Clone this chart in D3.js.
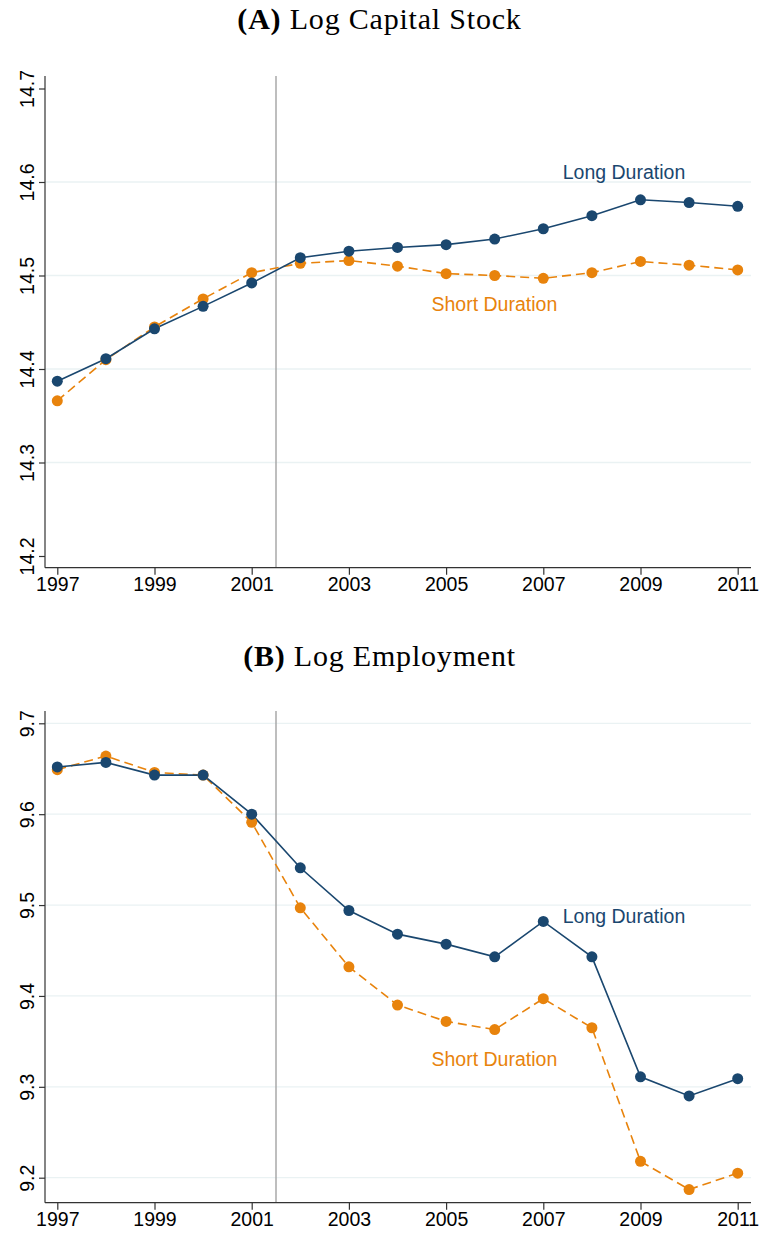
<!DOCTYPE html>
<html>
<head>
<meta charset="utf-8">
<script src="https://cdn.jsdelivr.net/npm/d3@7"></script>
<style>
  body { margin: 0; background: #fff; }
  svg { display: block; }
</style>
</head>
<body>
<script>
// Data
const years = [1997, 1998, 1999, 2000, 2001, 2002, 2003, 2004, 2005, 2006, 2007, 2008, 2009, 2010, 2011]
const xTicks = [1997, 1999, 2001, 2003, 2005, 2007, 2009, 2011]

const capitalLong = [14.387, 14.411, 14.443, 14.467, 14.492, 14.519, 14.526, 14.530, 14.533, 14.539, 14.550, 14.564, 14.581, 14.578, 14.574]
const capitalShort = [14.366, 14.410, 14.445, 14.475, 14.503, 14.513, 14.516, 14.510, 14.502, 14.500, 14.497, 14.503, 14.515, 14.511, 14.506]
const capitalTicks = [14.2, 14.3, 14.4, 14.5, 14.6, 14.7]

const emplLong = [9.652, 9.657, 9.643, 9.643, 9.600, 9.541, 9.494, 9.468, 9.457, 9.443, 9.482, 9.443, 9.311, 9.290, 9.309]
const emplShort = [9.649, 9.664, 9.646, 9.643, 9.591, 9.497, 9.432, 9.390, 9.372, 9.363, 9.397, 9.365, 9.218, 9.187, 9.205]
const emplTicks = [9.2, 9.3, 9.4, 9.5, 9.6, 9.7]

const treatYear = 2001.5

// Constants
const W = 759, H = 1237
const navy = "#1a476f"
const orange = "#e8830c"
const sans = "'Liberation Sans', Arial, Helvetica, sans-serif"
const serif = "'Liberation Serif', 'DejaVu Serif', serif"

const svg = d3.select("body").append("svg")
  .attr("width", W)
  .attr("height", H)

const x = d3.scaleLinear().domain([1997, 2011]).range([57.3, 737.7])

const drawPanel = opts => {
  const g = svg.append("g")
  const y = d3.scaleLinear().domain([opts.ticks[0], opts.ticks[opts.ticks.length - 1]]).range(opts.yRange)

  // Title (serif, a bit wider to look like the LaTeX caption)
  const title = g.append("text")
    .attr("x", W / 2)
    .attr("y", opts.titleY)
    .attr("text-anchor", "middle")
    .style("font-family", serif)
    .style("font-size", "30px")
    .style("letter-spacing", "0.8px")
  title.append("tspan").style("font-weight", "bold").text(opts.letter)
  title.append("tspan").text(" " + opts.title)

  // Gridlines
  g.selectAll(".grid")
    .data(opts.gridTicks)
    .enter()
    .append("line")
    .attr("x1", 45).attr("x2", 751)
    .attr("y1", d => y(d)).attr("y2", d => y(d))
    .attr("stroke", "#eaf2f3")
    .attr("stroke-width", 1.3)

  // Vertical line
  g.append("line")
    .attr("x1", x(treatYear)).attr("x2", x(treatYear))
    .attr("y1", opts.top).attr("y2", opts.bottom)
    .attr("stroke", "#a3a3a3")
    .attr("stroke-width", 1.4)

  // Axes
  const yAxis = d3.axisLeft(y).tickValues(opts.ticks).tickSize(6).tickFormat(d3.format(".1f"))
  const ya = g.append("g")
    .attr("transform", "translate(45,0)")
    .call(yAxis)
  ya.select(".domain").attr("d", `M0,${opts.top}V${opts.bottom}`)
  ya.selectAll(".tick text")
    .attr("x", 0).attr("y", 0).attr("dy", 0)
    .attr("transform", "translate(-11,0) rotate(-90)")
    .attr("text-anchor", "middle")
    .style("font-family", sans)
    .style("font-size", "19.5px")
    .style("fill", "#000")

  const xAxis = d3.axisBottom(x).tickValues(xTicks).tickSize(7).tickFormat(d3.format("d"))
  const xa = g.append("g")
    .attr("transform", `translate(0,${opts.bottom})`)
    .call(xAxis)
  xa.select(".domain").attr("d", "M45,0H751")
  xa.selectAll(".tick text")
    .attr("y", 9)
    .style("font-family", sans)
    .style("font-size", "19.5px")
    .style("fill", "#000")
  g.selectAll(".domain, .tick line").attr("stroke", "#333").attr("stroke-width", 1.2)

  // Lines
  const line = d3.line().x((d, i) => x(years[i])).y(d => y(d))

  g.append("path")
    .datum(opts.short)
    .attr("d", line)
    .attr("fill", "none")
    .attr("stroke", orange)
    .attr("stroke-width", 1.6)
    .attr("stroke-dasharray", "9,5")

  g.append("path")
    .datum(opts.long)
    .attr("d", line)
    .attr("fill", "none")
    .attr("stroke", navy)
    .attr("stroke-width", 1.6)

  g.selectAll(".dotS")
    .data(opts.short)
    .enter()
    .append("circle")
    .attr("cx", (d, i) => x(years[i]))
    .attr("cy", d => y(d))
    .attr("r", 5.5)
    .attr("fill", orange)

  g.selectAll(".dotL")
    .data(opts.long)
    .enter()
    .append("circle")
    .attr("cx", (d, i) => x(years[i]))
    .attr("cy", d => y(d))
    .attr("r", 5.5)
    .attr("fill", navy)

  // Series labels
  g.append("text")
    .attr("x", x(opts.longLabel[0]))
    .attr("y", y(opts.longLabel[1]))
    .attr("dy", "0.35em")
    .style("font-family", sans)
    .style("font-size", "19.5px")
    .style("fill", navy)
    .text("Long Duration")

  g.append("text")
    .attr("x", x(opts.shortLabel[0]))
    .attr("y", y(opts.shortLabel[1]))
    .attr("dy", "0.35em")
    .style("font-family", sans)
    .style("font-size", "19.5px")
    .style("fill", orange)
    .text("Short Duration")
}

drawPanel({
  letter: "(A)", title: "Log Capital Stock", titleY: 29,
  ticks: capitalTicks, gridTicks: [14.3, 14.4, 14.5, 14.6],
  yRange: [556, 88.5], top: 76, bottom: 567.7,
  long: capitalLong, short: capitalShort,
  longLabel: [2007.4, 14.610], shortLabel: [2004.7, 14.469]
})

drawPanel({
  letter: "(B)", title: "Log Employment", titleY: 666,
  ticks: emplTicks, gridTicks: emplTicks,
  yRange: [1177.7, 723.3], top: 711, bottom: 1202.7,
  long: emplLong, short: emplShort,
  longLabel: [2007.4, 9.488], shortLabel: [2004.7, 9.330]
})
</script>
</body>
</html>
